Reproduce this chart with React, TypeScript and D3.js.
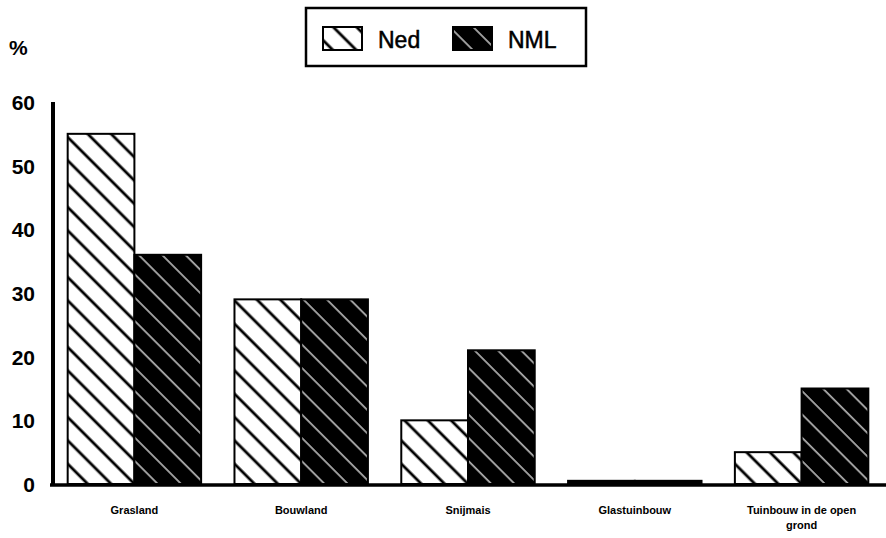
import * as d3 from "d3";
import { useEffect, useRef } from "react";

const categories = ["Grasland", "Bouwland", "Snijmais", "Glastuinbouw", "Tuinbouw in de open grond"];
const categoryLines = [["Grasland"], ["Bouwland"], ["Snijmais"], ["Glastuinbouw"], ["Tuinbouw in de open", "grond"]];
const seriesNames = ["Ned", "NML"];
const nedValues = [55, 29, 10, 0.5, 5];
const nmlValues = [36, 29, 21, 0.5, 15];
const yTicks = [0, 10, 20, 30, 40, 50, 60];

export default function App() {
    const ref = useRef(null);

    const width = 886,
        height = 538;

    useEffect(() => {
        const svg = d3.select(ref.current)
            .attr("width", width)
            .attr("height", height);
        svg.selectAll("*").remove();

        const font = "'Liberation Sans', Arial, sans-serif";

        const defs = svg.append("defs");
        // Ned: white with thick black diagonals
        const pNed = defs.append("pattern")
            .attr("id", "hatchNed")
            .attr("patternUnits", "userSpaceOnUse")
            .attr("width", 16.5)
            .attr("height", 16.5)
            .attr("patternTransform", "rotate(-45)");
        pNed.append("rect").attr("width", 16.5).attr("height", 16.5).attr("fill", "white");
        pNed.append("line").attr("x1", 2).attr("x2", 2).attr("y1", 0).attr("y2", 16.5)
            .attr("stroke", "black").attr("stroke-width", 2.8);
        // NML: black with thin white diagonals
        const pNml = defs.append("pattern")
            .attr("id", "hatchNml")
            .attr("patternUnits", "userSpaceOnUse")
            .attr("width", 16.5)
            .attr("height", 16.5)
            .attr("patternTransform", "rotate(-45)");
        pNml.append("rect").attr("width", 16.5).attr("height", 16.5).attr("fill", "black");
        pNml.append("line").attr("x1", 2).attr("x2", 2).attr("y1", 0).attr("y2", 16.5)
            .attr("stroke", "white").attr("stroke-width", 1.2);

        const fills = ["url(#hatchNed)", "url(#hatchNml)"];

        const x = d3.scaleBand<string>()
            .domain(categories)
            .range([51, 885])
            .paddingInner(0.2)
            .paddingOuter(0.1);

        const xSub = d3.scaleBand<string>()
            .domain(seriesNames)
            .range([0, x.bandwidth()]);

        const y = d3.scaleLinear()
            .domain([0, 60])
            .range([484, 102]);

        const data = categories.map((c, i) => ({ cat: c, values: [nedValues[i], nmlValues[i]] }));

        const groups = svg.selectAll("g.grp")
            .data(data)
            .join("g")
            .attr("class", "grp")
            .attr("transform", d => `translate(${x(d.cat)},0)`);

        groups.selectAll("rect")
            .data(d => d.values.map((v, j) => ({ v, j })))
            .join("rect")
            .attr("x", d => xSub(seriesNames[d.j])!)
            .attr("y", d => y(d.v))
            .attr("width", xSub.bandwidth())
            .attr("height", d => y(0) - y(d.v))
            .attr("fill", d => y(0) - y(d.v) < 6 ? "black" : fills[d.j])
            .attr("stroke", "black")
            .attr("stroke-width", 2);

        // axes
        svg.append("line")
            .attr("x1", 50).attr("x2", 886)
            .attr("y1", y(0) + 1).attr("y2", y(0) + 1)
            .attr("stroke", "black").attr("stroke-width", 3.5);
        svg.append("line")
            .attr("x1", 53).attr("x2", 53)
            .attr("y1", y(60)).attr("y2", y(0) + 2)
            .attr("stroke", "black").attr("stroke-width", 4);

        svg.selectAll("text.ytick")
            .data(yTicks)
            .join("text")
            .attr("class", "ytick")
            .attr("x", 35)
            .attr("y", d => y(d) + 8)
            .attr("text-anchor", "end")
            .style("font-family", font)
            .style("font-weight", "bold")
            .style("font-size", "21px")
            .text(d => d);

        svg.append("text")
            .attr("x", 9).attr("y", 55)
            .style("font-family", font)
            .style("font-weight", "bold")
            .style("font-size", "21px")
            .text("%");

        const labels = svg.selectAll("text.xlab")
            .data(categoryLines)
            .join("text")
            .attr("class", "xlab")
            .attr("x", (d, i) => x(categories[i])! + x.bandwidth() / 2)
            .attr("y", 514)
            .attr("text-anchor", "middle")
            .style("font-family", font)
            .style("font-weight", "bold")
            .style("font-size", "11px");
        labels.selectAll("tspan")
            .data(d => d)
            .join("tspan")
            .attr("x", function () { return (this.parentNode as SVGTextElement).getAttribute("x"); })
            .attr("dy", (d, i) => i === 0 ? 0 : 15)
            .text(d => d);

        // legend
        const legend = svg.append("g");
        legend.append("rect")
            .attr("x", 306).attr("y", 8)
            .attr("width", 280).attr("height", 58)
            .attr("fill", "white")
            .attr("stroke", "black").attr("stroke-width", 2.5);
        const legendX = [323, 453];
        seriesNames.forEach((s, i) => {
            legend.append("rect")
                .attr("x", legendX[i]).attr("y", 27)
                .attr("width", 39).attr("height", 23)
                .attr("fill", fills[i])
                .attr("stroke", "black").attr("stroke-width", 2);
            legend.append("text")
                .attr("x", legendX[i] + 55).attr("y", 48)
                .style("font-family", font)
                .style("font-size", "23px")
                .attr("stroke", "black")
                .attr("stroke-width", 0.5)
                .text(s);
        });
    }, []);

    return (
        <div style={{ position: "absolute", left: 0, top: 0 }}>
            <svg ref={ref} style={{ display: "block", background: "white" }}>
            </svg>
        </div>
    );
}
